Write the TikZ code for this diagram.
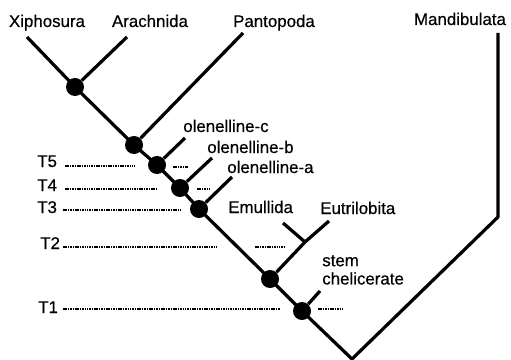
\documentclass[tikz,border=0pt]{standalone}
\usepackage{fontspec}
\setmainfont{Liberation Sans}[BoldFont={Liberation Sans}, BoldFeatures={FakeBold=0.5}]

\begin{document}
\begin{tikzpicture}[
  x=0.025cm, y=-0.025cm,
  branch/.style={line width=2.3pt, line join=round},
  dot/.style={circle, fill=black, inner sep=0pt, minimum size=0.45cm},
  taxon/.style={inner sep=0pt, anchor=base, font=\fontsize{12}{13}\selectfont\bfseries},
  side/.style={inner sep=0pt, anchor=base west, font=\fontsize{12}{13}\selectfont\bfseries},
  strata/.style={line width=2pt, dash pattern=on 1.1pt off 0.6pt}
]
  \useasboundingbox (0,0) rectangle (511,360);

  % Terminal taxa
  \node[taxon] (xiph) at (47,27) {Xiphosura};
  \node[taxon] (arach) at (150,27) {Arachnida};
  \node[taxon] (panto) at (274,27) {Pantopoda};
  \node[taxon] (mand) at (460,25) {Mandibulata};

  % Side labels
  \node[side] (olc) at (183,132) {olenelline-c};
  \node[side] (olb) at (207,153) {olenelline-b};
  \node[side] (ola) at (227,173) {olenelline-a};
  \node[side] (emu) at (228,213) {Emullida};
  \node[side] (eut) at (320,214) {Eutrilobita};
  \node[side, anchor=north west, align=left] (stem) at (322,255)
    {stem\\chelicerate};

  % Branch points
  \node[dot] (n1) at (75,87) {};
  \node[dot] (n2) at (134,145) {};
  \node[dot] (n3) at (157,165) {};
  \node[dot] (n4) at (180,188) {};
  \node[dot] (n5) at (199,209) {};
  \node[dot] (n6) at (270,279) {};
  \node[dot] (n7) at (302,311) {};

  % Branch ends
  \coordinate (xiphTip) at (27,37);
  \coordinate (arachTip) at (127,37);
  \coordinate (pantoTip) at (243,33);
  \coordinate (olcTip) at (185,138);
  \coordinate (olbTip) at (212,158);
  \coordinate (olaTip) at (232,177);
  \coordinate (emuJoin) at (305,242);
  \coordinate (emuTip) at (283,223);
  \coordinate (eutTip) at (329,221);
  \coordinate (stemTip) at (320,291);
  \coordinate (root) at (352,359);
  \coordinate (mandBend) at (498,217);
  \coordinate (mandTip) at (498,33);

  % Tree
  \draw[branch] (xiphTip) -- (n1.center) -- (n2.center) -- (n3.center)
    -- (n4.center) -- (n5.center) -- (n6.center) -- (n7.center) -- (root)
    -- (mandBend) -- (mandTip);
  \draw[branch] (n1) -- (arachTip);
  \draw[branch] (n2) -- (pantoTip);
  \draw[branch] (n3) -- (olcTip);
  \draw[branch] (n4) -- (olbTip);
  \draw[branch] (n5) -- (olaTip);
  \draw[branch] (n6) -- (emuJoin) -- (eutTip);
  \draw[branch] (emuJoin) -- (emuTip);
  \draw[branch] (n7) -- (stemTip);

  % Time levels
  \node[side] (T5) at (37,167) {T5};
  \node[side] (T4) at (37,191) {T4};
  \node[side] (T3) at (37,213) {T3};
  \node[side] (T2) at (40,249) {T2};
  \node[side] (T1) at (38,313) {T1};

  \coordinate (t5a) at (65,166);  \coordinate (t5b) at (135,166);
  \coordinate (t5c) at (173,167); \coordinate (t5d) at (188,167);
  \coordinate (t4a) at (65,189);  \coordinate (t4b) at (158,189);
  \coordinate (t4c) at (197,189); \coordinate (t4d) at (210,189);
  \coordinate (t3a) at (63,210);  \coordinate (t3b) at (181,210);
  \coordinate (t2a) at (63,247);  \coordinate (t2b) at (217,247);
  \coordinate (t2c) at (255,247); \coordinate (t2d) at (286,247);
  \coordinate (t1a) at (63,309);  \coordinate (t1b) at (280,309);
  \coordinate (t1c) at (318,309); \coordinate (t1d) at (342,309);

  \draw[strata] (t5a) -- (t5b);
  \draw[strata] (t5c) -- (t5d);
  \draw[strata] (t4a) -- (t4b);
  \draw[strata] (t4c) -- (t4d);
  \draw[strata] (t3a) -- (t3b);
  \draw[strata] (t2a) -- (t2b);
  \draw[strata] (t2c) -- (t2d);
  \draw[strata] (t1a) -- (t1b);
  \draw[strata] (t1c) -- (t1d);
\end{tikzpicture}
\end{document}
